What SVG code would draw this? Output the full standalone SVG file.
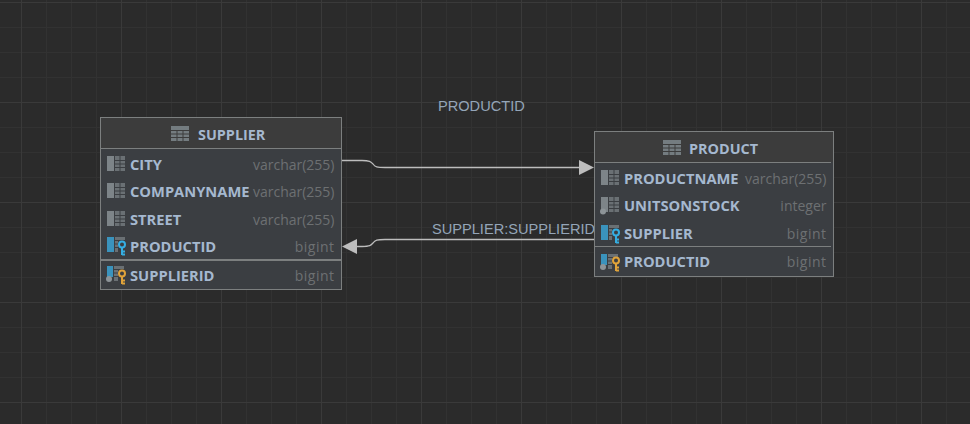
<svg xmlns="http://www.w3.org/2000/svg" width="970" height="424" viewBox="0 0 970 424">
<style>
.bg{fill:#2b2b2b}
.minor{stroke:#323232;stroke-width:1;fill:none}
.major{stroke:#3a3a3a;stroke-width:1;fill:none}
.box{fill:#3b3e42;stroke:#7c7f7f;stroke-width:1}
.head{fill:#3c3c3c}
.sep{stroke:#7c7f7f;stroke-width:1;fill:none}
.title{font-family:"Open Sans","Noto Sans",sans-serif;font-weight:700;font-size:14.400px;fill:#a5b8cf}
.name{font-family:"Open Sans","Noto Sans",sans-serif;font-weight:700;font-size:14.700px;fill:#a5b8cf}
.type{font-family:"Open Sans","Noto Sans",sans-serif;font-size:14px;fill:#6d7072;text-anchor:end}
.wide{letter-spacing:.5px}
.lbl{font-family:"Liberation Sans",sans-serif;font-size:14.600px;fill:#94a5b8}
.conn{stroke:#bdbdbd;stroke-width:1.300;fill:none}
.arrow{fill:#bdbdbd}
.ic{fill:#7d8488}
.icd{fill:#6a7074}
.keyb{stroke:#35aee2;fill:none;stroke-width:2}
.keyo{stroke:#e0a33a;fill:none;stroke-width:2}
</style>
<defs>
<g id="tbl"><rect width="18" height="15" fill="#747c80"/><path d="M0 4.500H18M0 8H18M0 11.500H18M6 4V15M12 4V15" stroke="#3c3c3c" stroke-width="1"/></g>
<g id="col"><rect width="7" height="15" class="ic"/><rect x="8" width="10" height="15" class="icd"/><path d="M8 4.500H18M8 8H18M8 11.500H18M13 0V15" stroke="#3b3e42" stroke-width="1"/></g>
<g id="dot"><circle cx="3" cy="12.500" r="3" fill="#8d9498"/></g>
<g id="fk"><rect width="7" height="15" fill="#3a93bd"/><rect x="8" width="10" height="15" class="icd"/><path d="M8 3.500H18M8 7H18M8 10.500H18" stroke="#3b3e42" stroke-width="1"/></g>
<g id="nnfk"><rect x="1" width="6" height="11" fill="#3a93bd"/><rect x="8" width="10" height="15" class="icd"/><path d="M8 3.500H18M8 7H18M8 10.500H18" stroke="#3b3e42" stroke-width="1"/><circle cx="3" cy="13" r="3" fill="#8d9498"/></g>
<g id="kb"><rect x="11" y="4" width="8" height="14" fill="#3b3e42"/><circle cx="15" cy="7.500" r="3" class="keyb"/><path d="M15 10.500V18M15 14.500H18M15 17.500H18" class="keyb"/></g>
<g id="ko"><rect x="11" y="4" width="8" height="14" fill="#3b3e42"/><circle cx="15" cy="7.500" r="3" class="keyo"/><path d="M15 10.500V18M15 14.500H18M15 17.500H18" class="keyo"/></g>
</defs>
<rect class="bg" width="970" height="424"/>
<g id="grid">
<path class="minor" d="M46.500 0V424M71.500 0V424M96.500 0V424M146.500 0V424M171.500 0V424M196.500 0V424M246.500 0V424M271.500 0V424M296.500 0V424M346.500 0V424M371.500 0V424M396.500 0V424M446.500 0V424M471.500 0V424M496.500 0V424M546.500 0V424M571.500 0V424M596.500 0V424M646.500 0V424M671.500 0V424M696.500 0V424M746.500 0V424M771.500 0V424M796.500 0V424M846.500 0V424M871.500 0V424M896.500 0V424M946.500 0V424"/>
<path class="minor" d="M0 27.500H970M0 52.500H970M0 77.500H970M0 127.500H970M0 152.500H970M0 177.500H970M0 227.500H970M0 252.500H970M0 277.500H970M0 327.500H970M0 352.500H970M0 377.500H970"/>
<path class="major" d="M21.500 0V424M121.500 0V424M221.500 0V424M321.500 0V424M421.500 0V424M521.500 0V424M621.500 0V424M721.500 0V424M821.500 0V424M921.500 0V424"/>
<path class="major" d="M0 2.500H970M0 102.500H970M0 202.500H970M0 302.500H970M0 402.500H970"/>
</g>
<g id="connectors">
<path class="conn" d="M342 160.500H362C370 160.500 371 162 373 164C375 167 377 167.500 385 167.500H581"/>
<polygon class="arrow" points="594,167.500 579,160 579,175"/>
<path class="conn" d="M594 239.500H385C377 239.500 375 240 373 243C371 245.500 370 246.500 362 246.500H355"/>
<polygon class="arrow" points="342,246.500 357,239 357,254"/>
</g>
<g id="edge-labels">
<text class="lbl" x="438" y="110.500">PRODUCTID</text>
<text class="lbl" x="432" y="234">SUPPLIER:SUPPLIERID</text>
</g>
<g id="supplier">
<rect class="box" x="100.500" y="117.500" width="241" height="172"/>
<rect class="head" x="101" y="118" width="240" height="30"/>
<path class="sep" d="M101 148.500H341"/>
<path d="M101 260H341" stroke="#7c7f7f" stroke-width="2"/>
<use href="#tbl" x="171" y="126"/>
<text class="title" x="198" y="140">SUPPLIER</text>
<use href="#col" x="107" y="156"/><text class="name" x="130" y="170">CITY</text><text class="type" x="334.500" y="170">varchar(255)</text>
<use href="#col" x="107" y="183"/><text class="name" x="130" y="197">COMPANYNAME</text><text class="type" x="334.500" y="197">varchar(255)</text>
<use href="#col" x="107" y="211"/><text class="name" x="130" y="225">STREET</text><text class="type" x="334.500" y="225">varchar(255)</text>
<use href="#fk" x="107" y="237"/><use href="#kb" x="107" y="237"/><text class="name" x="130" y="252">PRODUCTID</text><text class="type wide" x="334.500" y="252">bigint</text>
<use href="#nnfk" x="106" y="266"/><use href="#ko" x="107" y="266"/><text class="name" x="130" y="281">SUPPLIERID</text><text class="type wide" x="334.500" y="281">bigint</text>
</g>
<g id="product">
<rect class="box" x="594.500" y="131.500" width="239" height="145"/>
<rect class="head" x="595" y="132" width="238" height="30"/>
<path class="sep" d="M595 162.500H831M595 246.500H831"/>
<use href="#tbl" x="663" y="140"/>
<text class="title" x="689" y="154">PRODUCT</text>
<use href="#col" x="601" y="170"/><text class="name" x="624" y="184">PRODUCTNAME</text><text class="type" x="826.500" y="184">varchar(255)</text>
<use href="#col" x="601" y="197"/><use href="#dot" x="600" y="199"/><text class="name" x="624" y="211">UNITSONSTOCK</text><text class="type" x="826.500" y="211">integer</text>
<use href="#fk" x="601" y="225"/><use href="#kb" x="601" y="225"/><text class="name" x="624" y="239">SUPPLIER</text><text class="type wide" x="826.500" y="239">bigint</text>
<use href="#nnfk" x="600" y="254"/><use href="#ko" x="601" y="253"/><text class="name" x="624" y="267">PRODUCTID</text><text class="type wide" x="826.500" y="267">bigint</text>
</g>
</svg>
